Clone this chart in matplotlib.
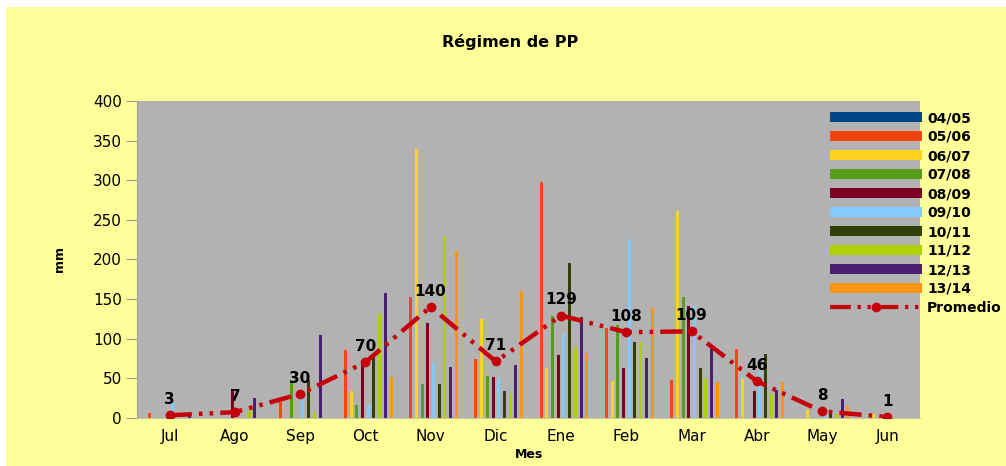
import numpy as np
import matplotlib
matplotlib.use("Agg")
import matplotlib.pyplot as plt
from matplotlib.patches import Rectangle

months = ["Jul", "Ago", "Sep", "Oct", "Nov", "Dic", "Ene", "Feb", "Mar", "Abr", "May", "Jun"]
seasons = ["04/05", "05/06", "06/07", "07/08", "08/09", "09/10", "10/11", "11/12", "12/13", "13/14"]

pp_0405 = [0, 0, 0, 0, 0, 0, 0, 0, 0, 0, 0, 0]
pp_0506 = [6, 0, 20, 86, 152, 74, 298, 113, 48, 87, 0, 0]
pp_0607 = [0, 0, 0, 34, 339, 125, 63, 46, 261, 50, 10, 5]
pp_0708 = [0, 0, 46, 16, 42, 53, 128, 117, 152, 0, 0, 0]
pp_0809 = [0, 34, 0, 66, 120, 51, 79, 63, 141, 34, 0, 0]
pp_0910 = [19, 0, 24, 16, 69, 49, 106, 226, 141, 58, 13, 0]
pp_1011 = [0, 0, 48, 77, 42, 34, 195, 96, 63, 80, 5, 0]
pp_1112 = [0, 8, 6, 130, 228, 31, 89, 96, 49, 29, 5, 0]
pp_1213 = [5, 25, 104, 158, 64, 66, 127, 75, 87, 35, 24, 0]
pp_1314 = [0, 0, 0, 52, 210, 160, 82, 139, 45, 45, 15, 0]
promedio = [3, 7, 30, 70, 140, 71, 129, 108, 109, 46, 8, 1]

series = [pp_0405, pp_0506, pp_0607, pp_0708, pp_0809,
          pp_0910, pp_1011, pp_1112, pp_1213, pp_1314]
colors = ["#004586", "#FF420E", "#FFD320", "#579D1C", "#7E0021",
          "#83CAFF", "#314004", "#AECF00", "#4B1F6F", "#FF950E"]
line_color = "#C5000B"
bg_yellow = "#FFFF99"
plot_gray = "#B2B2B2"

fig = plt.figure(figsize=(10.06, 4.66), dpi=100, facecolor=bg_yellow)
# white strips at top and left, as in the original
fig.patches.append(Rectangle((0, 1 - 7 / 466), 1, 7 / 466, transform=fig.transFigure,
                             facecolor="white", edgecolor="none", zorder=-1))
fig.patches.append(Rectangle((0, 0), 6 / 1006, 1, transform=fig.transFigure,
                             facecolor="white", edgecolor="none", zorder=-1))

ax = fig.add_axes([137 / 1006, 1 - 417.7 / 466, 783 / 1006, 316.7 / 466])
ax.set_facecolor(plot_gray)

x = np.arange(len(months))
slot = 0.0873
width = 0.046
for i, (vals, c, lab) in enumerate(zip(series, colors, seasons)):
    off = (i - 4.5) * slot
    ax.bar(x + off, vals, width=width, color=c, label=lab, zorder=2)

ax.plot(x, promedio, color=line_color, lw=3.2, marker="o", markersize=6,
        dashes=(5, 1.6, 0.8, 1.6, 0.8, 1.6), label="Promedio", zorder=3)
for xi, v in zip(x, promedio):
    ax.annotate(f"{v}", (xi, v), xytext=(0, 6), textcoords="offset points",
                ha="center", va="bottom", fontsize=11, fontweight="bold", zorder=4)

ax.set_xlim(-0.5, len(months) - 0.5)
ax.set_ylim(0, 400)
ax.set_yticks(range(0, 401, 50))
ax.set_xticks(x, labels=months)
ax.tick_params(axis="y", length=8, color="#A0A0A0", labelsize=11, pad=3)
ax.tick_params(axis="x", length=0, labelsize=11, pad=8)
for s in ["top", "right"]:
    ax.spines[s].set_visible(False)
ax.spines["left"].set_color("#A0A0A0")
ax.spines["bottom"].set_color("#C8C8A0")

ax.set_xlabel("Mes", fontsize=9, fontweight="bold", labelpad=3)
ax.set_ylabel("mm", fontsize=9, fontweight="bold", labelpad=19)
fig.text(510 / 1006, 1 - 42 / 466, "Régimen de PP", ha="center", va="center",
         fontsize=11.5, fontweight="bold")

handles, labels = ax.get_legend_handles_labels()
handles = handles[1:] + handles[:1]
labels = labels[1:] + labels[:1]
leg = ax.legend(handles, labels, loc="upper left",
                bbox_to_anchor=(830 / 1006, 1 - 111 / 466),
                bbox_transform=fig.transFigure, frameon=False,
                handlelength=6.6, handletextpad=0.4, labelspacing=0.36,
                borderaxespad=0, borderpad=0, prop={"weight": "bold", "size": 10})
for line in leg.get_lines():
    line.set_linewidth(3)

fig.savefig("out.png", dpi=100, facecolor=bg_yellow)
